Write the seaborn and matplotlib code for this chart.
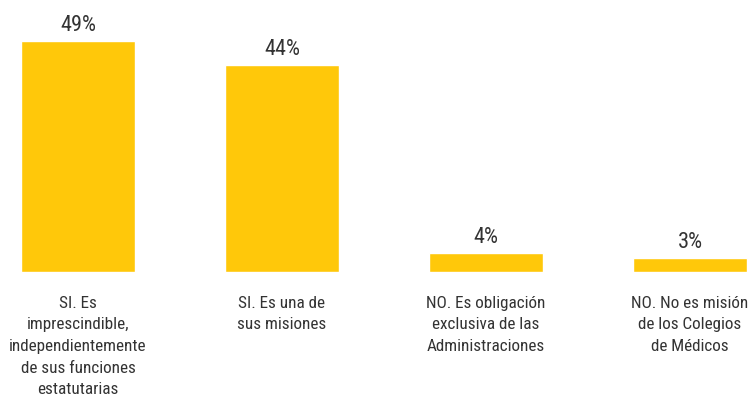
import matplotlib
matplotlib.use("Agg")
import matplotlib.pyplot as plt
import seaborn as sns
import pandas as pd

categories = [
    "SI. Es\nimprescindible,\nindependientemente\nde sus funciones\nestatutarias",
    "SI. Es una de\nsus misiones",
    "NO. Es obligación\nexclusiva de las\nAdministraciones",
    "NO. No es misión\nde los Colegios\nde Médicos",
]
values = [49, 44, 4, 3]
value_labels = [f"{v}%" for v in values]

sns.set_theme(style="white")
plt.rcParams["font.family"] = ["Roboto Condensed", "DejaVu Sans"]

df = pd.DataFrame({"respuesta": categories, "pct": values})

fig = plt.figure(figsize=(7.49, 4.08), dpi=100)
ax = fig.add_axes([0, (408 - 272) / 408, 1, 272 / 408])

sns.barplot(data=df, x="respuesta", y="pct", color="#FFC80A",
            saturation=1, width=0.559, ax=ax)

ax.set_xlim(-78 / 204, (749 - 78) / 204)
ax.set_ylim(0, 272 / 4.714)

for c in ax.containers:
    ax.bar_label(c, labels=value_labels, padding=3.5,
                 fontsize=16, color="#333333")

ax.set_xlabel("")
ax.set_ylabel("")
ax.set_yticks([])
ax.tick_params(axis="x", length=0, pad=17, labelsize=12.3, labelcolor="#333333")
for lbl in ax.get_xticklabels():
    lbl.set_linespacing(1.56)
sns.despine(ax=ax, left=True, bottom=True, top=True, right=True)

fig.savefig("out.png", dpi=100)
